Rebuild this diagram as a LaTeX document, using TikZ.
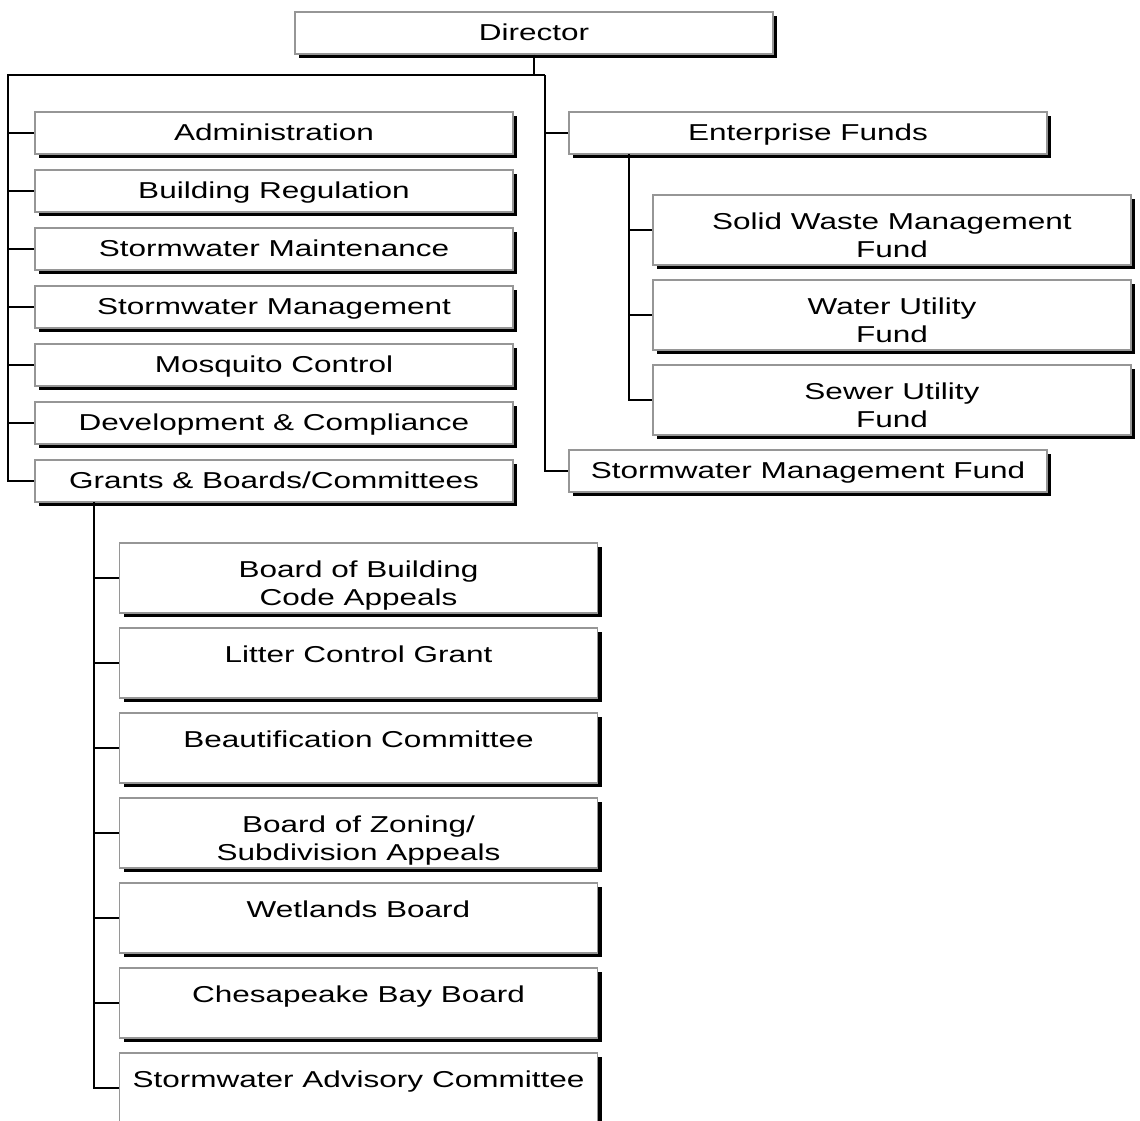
\documentclass[tikz,border=0pt]{standalone}
\usepackage{fontspec}
\setmainfont{Liberation Sans}[FakeStretch=1.37]
\usetikzlibrary{shadows}
\definecolor{edgegray}{RGB}{150,150,150}
\newcommand\onel[1]{\parbox[c][42pt][t]{470pt}{\centering\rule{0pt}{28pt}#1}}
\newcommand\twol[1]{\parbox[c][70pt][t]{470pt}{\centering\rule{0pt}{34pt}#1}}
\begin{document}
\begin{tikzpicture}[x=1pt,y=-1pt,
  font=\fontsize{23}{28}\selectfont,
  box/.style={rectangle, draw=edgegray, line width=1.2pt, fill=white, inner sep=0pt,
    minimum width=478pt, minimum height=42pt,
    drop shadow={shadow xshift=4pt, shadow yshift=-4pt, fill=black, opacity=1}},
  tall/.style={box, minimum height=70pt},
  conn/.style={line width=1.4pt, draw=black}]
\useasboundingbox (0,0) rectangle (1140,1120);
% boxes
\node[box] (dir) at (534,33) {\onel{Director}};
\node[box] (adm) at (274,133) {\onel{Administration}};
\node[box] (bld) at (274,191) {\onel{Building Regulation}};
\node[box] (smt) at (274,249) {\onel{Stormwater Maintenance}};
\node[box] (smg) at (274,307) {\onel{Stormwater Management}};
\node[box] (mos) at (274,365) {\onel{Mosquito Control}};
\node[box] (dev) at (274,423) {\onel{Development \& Compliance}};
\node[box] (grt) at (274,481) {\onel{Grants \& Boards/Committees}};
\node[box] (ent) at (808,133) {\onel{Enterprise Funds}};
\node[tall] (sw) at (892,230) {\twol{Solid Waste Management\\Fund}};
\node[tall] (wu) at (892,315) {\twol{Water Utility\\Fund}};
\node[tall] (su) at (892,400) {\twol{Sewer Utility\\Fund}};
\node[box] (smf) at (808,471) {\onel{Stormwater Management Fund}};
\node[tall] (bbc) at (358.5,578) {\twol{Board of Building\\Code Appeals}};
\node[tall] (lcg) at (358.5,663) {\twol{Litter Control Grant}};
\node[tall] (bcm) at (358.5,748) {\twol{Beautification Committee}};
\node[tall] (bza) at (358.5,833) {\twol{Board of Zoning/\\Subdivision Appeals}};
\node[tall] (wlb) at (358.5,918) {\twol{Wetlands Board}};
\node[tall] (cbb) at (358.5,1003) {\twol{Chesapeake Bay Board}};
\node[tall] (sac) at (358.5,1088) {\twol{Stormwater Advisory Committee}};
% trunk points
\coordinate (lt) at (8,75);
\coordinate (rt) at (545,75);
\coordinate (et) at (629,154);
\coordinate (gt) at (94,502);
% connectors
\draw[conn] (dir.south) -- (dir.south |- lt);
\draw[conn] (rt) -- (lt) -- (lt |- grt.west) -- (grt.west);
\foreach \b in {adm,bld,smt,smg,mos,dev} \draw[conn] (lt |- \b.west) -- (\b.west);
\draw[conn] (rt) -- (rt |- smf.west) -- (smf.west);
\draw[conn] (rt |- ent.west) -- (ent.west);
\draw[conn] (et) -- (et |- su.west) -- (su.west);
\foreach \b in {sw,wu} \draw[conn] (et |- \b.west) -- (\b.west);
\draw[conn] (gt) -- (gt |- sac.west) -- (sac.west);
\foreach \b in {bbc,lcg,bcm,bza,wlb,cbb} \draw[conn] (gt |- \b.west) -- (\b.west);
\end{tikzpicture}
\end{document}
